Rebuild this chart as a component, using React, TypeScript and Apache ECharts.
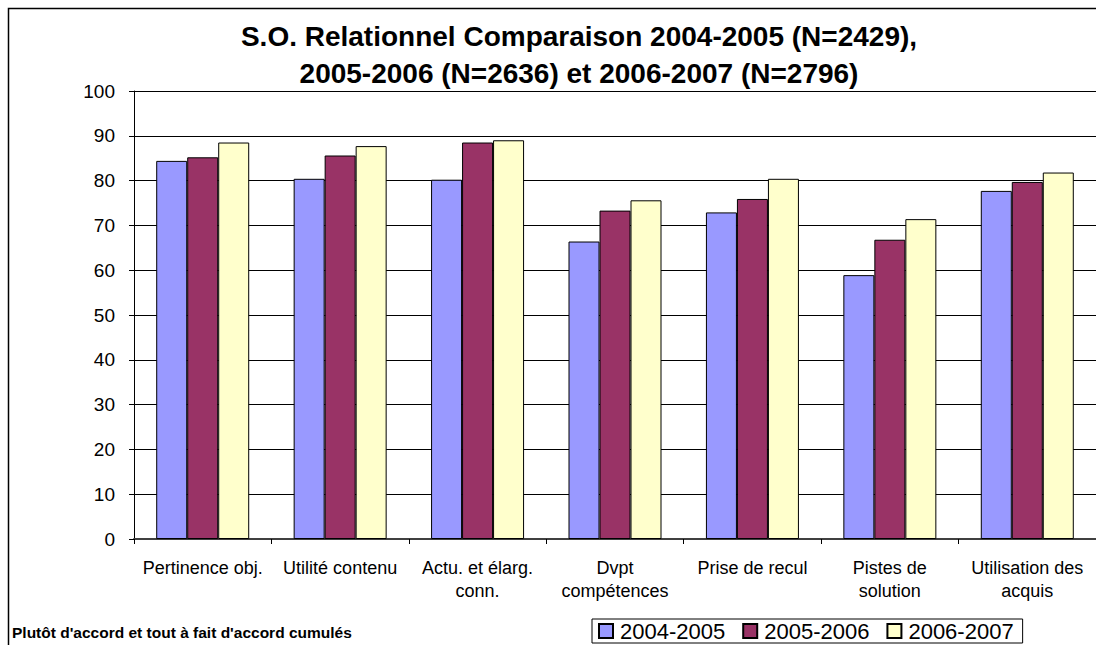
import React, { useEffect, useRef } from "react";
import * as echarts from "echarts";

const categories = [
  "Pertinence obj.",
  "Utilité contenu",
  "Actu. et élarg.\nconn.",
  "Dvpt\ncompétences",
  "Prise de recul",
  "Pistes de\nsolution",
  "Utilisation des\nacquis",
];
const seriesNames = ["2004-2005", "2005-2006", "2006-2007"];
const values2004 = [84.4, 80.4, 80.2, 66.4, 72.9, 58.9, 77.7];
const values2005 = [85.2, 85.6, 88.5, 73.3, 75.9, 66.8, 79.7];
const values2006 = [88.5, 87.7, 89.0, 75.6, 80.4, 71.4, 81.8];
const colors = ["#9999FF", "#993366", "#FFFFCC"];
const titleText = "S.O. Relationnel Comparaison 2004-2005 (N=2429),\n2005-2006 (N=2636) et 2006-2007 (N=2796)";
const footnote = "Plutôt d'accord et tout à fait d'accord cumulés";

const FONT = "'Liberation Sans', Arial, sans-serif";

export default function App() {
  const ref = useRef<HTMLDivElement>(null);
  useEffect(() => {
    if (!ref.current) return;
    const chart = echarts.init(ref.current, null, { renderer: "svg" });
    const allValues = [values2004, values2005, values2006];
    chart.setOption({
      animation: false,
      backgroundColor: "#ffffff",
      textStyle: { fontFamily: FONT },
      grid: { left: 134, top: 91, bottom: 106, width: 965, containLabel: false },
      legend: {
        data: seriesNames,
        left: 592,
        top: 619,
        itemWidth: 14,
        itemHeight: 14,
        itemGap: 17,
        padding: [1, 9, 1, 6],
        borderColor: "#000",
        borderWidth: 1,
        icon: "rect",
        textStyle: { fontSize: 22, color: "#000", fontFamily: FONT, padding: [0, 0, 0, 2] },
      },
      xAxis: {
        type: "category",
        data: categories,
        axisLine: { lineStyle: { color: "#404040", width: 2 } },
        axisTick: { show: true, length: 5, lineStyle: { color: "#000" } },
        axisLabel: {
          interval: 0,
          margin: 17,
          fontSize: 18,
          lineHeight: 23,
          color: "#000",
          fontFamily: FONT,
        },
      },
      yAxis: {
        type: "value",
        min: 0,
        max: 100,
        interval: 10,
        axisLine: { show: true, lineStyle: { color: "#000", width: 1 } },
        axisTick: { show: true, length: 5, lineStyle: { color: "#000" } },
        axisLabel: { fontSize: 19, color: "#000", margin: 19, fontFamily: FONT },
        splitLine: { show: true, lineStyle: { color: "#000", width: 1 } },
      },
      series: seriesNames.map((name, i) => ({
        name,
        type: "bar",
        data: allValues[i],
        barWidth: 31,
        barGap: "0%",
        itemStyle: { color: colors[i], borderColor: "#000", borderWidth: 1 },
      })),
      graphic: [
        {
          type: "rect",
          shape: { x: 8.5, y: 8.5, width: 1100, height: 650 },
          style: { fill: "none", stroke: "#000", lineWidth: 1.5 },
          silent: true,
          z: 100,
        },
        {
          type: "text",
          x: 579,
          y: 18,
          style: {
            text: titleText,
            textAlign: "center",
            textVerticalAlign: "top",
            font: `bold 28px ${FONT}`,
            lineHeight: 37,
            fill: "#000",
          },
        },
        {
          type: "text",
          x: 12,
          y: 624,
          style: {
            text: footnote,
            font: `bold 15.5px ${FONT}`,
            fill: "#000",
          },
        },
      ],
    });
    return () => chart.dispose();
  }, []);
  return (
    <div
      ref={ref}
      style={{ width: 1096, height: 645, position: "fixed", left: 0, top: 0 }}
    />
  );
}
